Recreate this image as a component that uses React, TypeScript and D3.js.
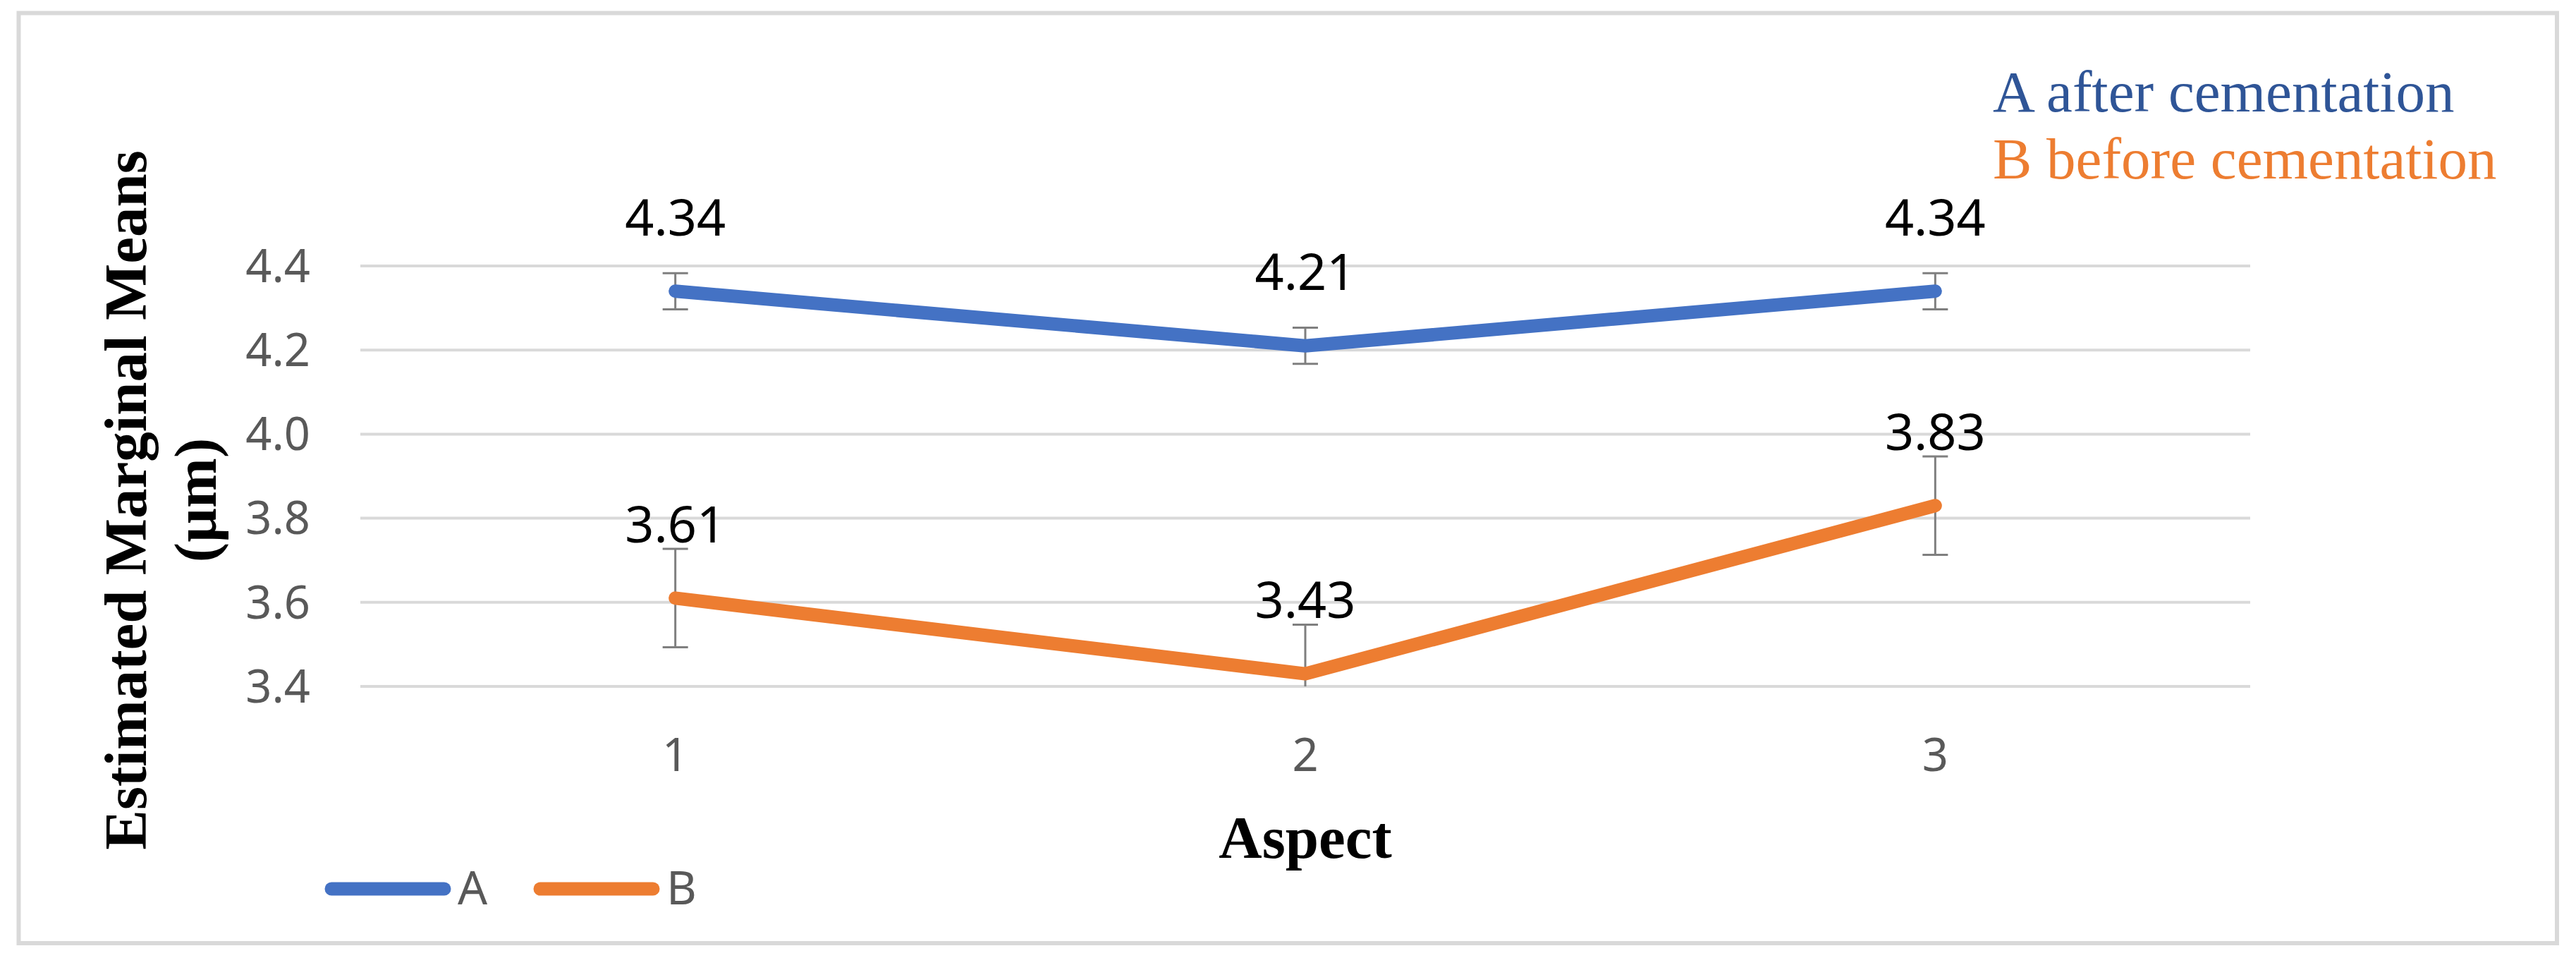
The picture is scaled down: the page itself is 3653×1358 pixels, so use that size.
import React, { useEffect } from 'react';
import * as d3 from 'd3';

const aspects = ['1', '2', '3'];
const seriesNames = ['A', 'B'];
const valuesA = [4.34, 4.21, 4.34];
const valuesB = [3.61, 3.43, 3.83];
const errorA = [0.043, 0.043, 0.043];
const errorB = [0.117, 0.117, 0.117];
const yTicks = [3.4, 3.6, 3.8, 4.0, 4.2, 4.4];
const notes = ['A after cementation', 'B before cementation'];

const W = 3653;
const H = 1358;
const colors = ['#4472C4', '#ED7D31'];
const noteColors = ['#2F5597', '#ED7D31'];
const sans = "'Noto Sans', 'Open Sans', sans-serif";
const serif = "'Liberation Serif', 'Times New Roman', serif";

const App = () => {
  useEffect(() => {
    document.body.style.margin = '0';
  }, []);

  // plot area
  const x = d3.scalePoint().domain(aspects).range([511, 3191]).padding(0.5);
  const y = d3.scaleLinear().domain([3.4, 4.4]).range([973, 377]);

  const series = [
    { name: seriesNames[0], values: valuesA, err: errorA, color: colors[0] },
    { name: seriesNames[1], values: valuesB, err: errorB, color: colors[1] },
  ];

  const line = d3
    .line<number>()
    .x((d, i) => x(aspects[i]) as number)
    .y(d => y(d));

  const [yMin, yMax] = y.domain();

  return (
    <svg width={W} height={H} style={{ display: 'block', background: '#fff' }}>
      {/* chart frame */}
      <rect x={26.5} y={18.5} width={3599.5} height={1318.5} fill="#fff" stroke="#d9d9d9" strokeWidth={6} />

      {/* grid lines */}
      {yTicks.map(t => (
        <line key={t} x1={511} x2={3191} y1={y(t)} y2={y(t)} stroke="#d9d9d9" strokeWidth={4} />
      ))}

      {/* y tick labels */}
      {yTicks.map(t => (
        <text
          key={'yl' + t}
          x={440}
          y={y(t)}
          dy="0.35em"
          textAnchor="end"
          fontFamily={sans}
          fontSize={65}
          fill="#595959"
        >
          {d3.format('.1f')(t)}
        </text>
      ))}

      {/* x tick labels */}
      {aspects.map(a => (
        <text key={'xl' + a} x={x(a)} y={1093} textAnchor="middle" fontFamily={sans} fontSize={65} fill="#595959">
          {a}
        </text>
      ))}

      {/* error bars */}
      {series.map(s =>
        s.values.map((v, i) => {
          const cx = x(aspects[i]) as number;
          const hi = Math.min(v + s.err[i], yMax);
          const lo = Math.max(v - s.err[i], yMin);
          return (
            <g key={s.name + 'e' + i} stroke="#7f7f7f" strokeWidth={3}>
              <line x1={cx} x2={cx} y1={y(hi)} y2={y(lo)} />
              {v + s.err[i] <= yMax && <line x1={cx - 18} x2={cx + 18} y1={y(hi)} y2={y(hi)} />}
              {v - s.err[i] >= yMin && <line x1={cx - 18} x2={cx + 18} y1={y(lo)} y2={y(lo)} />}
            </g>
          );
        })
      )}

      {/* lines */}
      {series.map(s => (
        <path
          key={s.name}
          d={line(s.values) || ''}
          fill="none"
          stroke={s.color}
          strokeWidth={19}
          strokeLinecap="round"
          strokeLinejoin="round"
        />
      ))}

      {/* data labels */}
      {series.map(s =>
        s.values.map((v, i) => (
          <text
            key={s.name + 'l' + i}
            x={x(aspects[i])}
            y={y(v) - 79}
            textAnchor="middle"
            fontFamily={sans}
            fontSize={72}
            fill="#000"
          >
            {d3.format('.2f')(v)}
          </text>
        ))
      )}

      {/* y axis title */}
      <text
        transform="translate(207,709) rotate(-90)"
        textAnchor="middle"
        fontFamily={serif}
        fontWeight="bold"
        fontSize={85}
        fill="#000"
      >
        Estimated Marginal Means
      </text>
      <text
        transform="translate(306,709) rotate(-90)"
        textAnchor="middle"
        fontFamily={serif}
        fontWeight="bold"
        fontSize={85}
        fill="#000"
      >
        (µm)
      </text>

      {/* x axis title */}
      <text x={1851} y={1216} textAnchor="middle" fontFamily={serif} fontWeight="bold" fontSize={85} fill="#000">
        Aspect
      </text>

      {/* legend */}
      {series.map((s, i) => {
        const lx = 470 + i * 296;
        return (
          <g key={'lg' + s.name}>
            <line x1={lx} x2={lx + 160} y1={1260} y2={1260} stroke={s.color} strokeWidth={19} strokeLinecap="round" />
            <text x={lx + 179} y={1282} fontFamily={sans} fontSize={66} fill="#595959">
              {s.name}
            </text>
          </g>
        );
      })}

      {/* notes */}
      {notes.map((n, i) => (
        <text key={n} x={2826} y={158 + i * 95} fontFamily={serif} fontSize={83} fill={noteColors[i]}>
          {n}
        </text>
      ))}
    </svg>
  );
};

export default App;
